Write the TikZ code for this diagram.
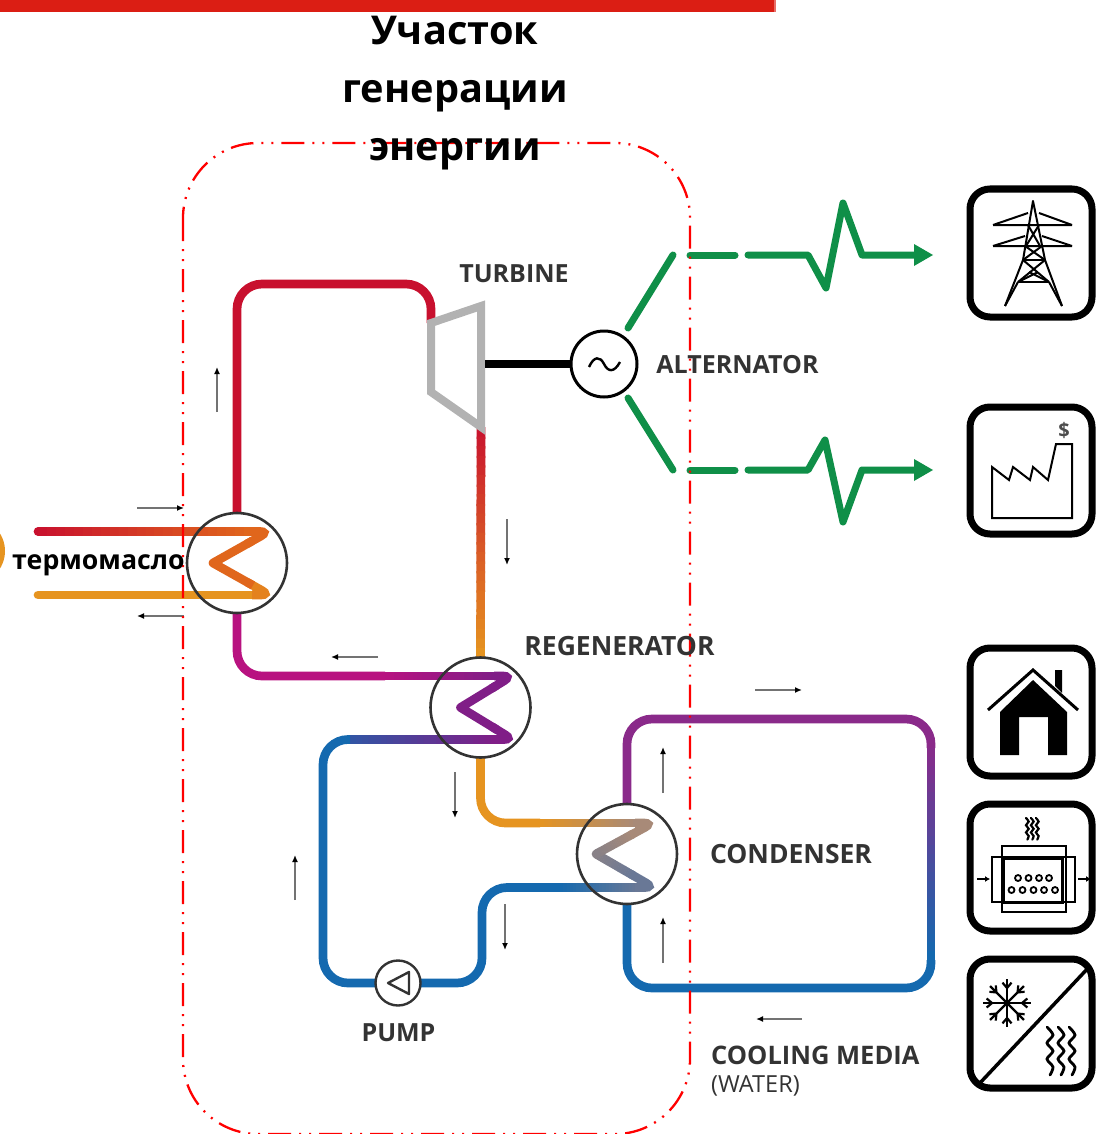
\documentclass[tikz,border=0pt]{standalone}
\usepackage{fontspec}
\setmainfont{Open Sans}
\usetikzlibrary{
  arrows.meta,
  backgrounds,
  calc,
}
\definecolor{barred}{RGB}{219, 30, 20}
\definecolor{pipered}{RGB}{200, 16, 46}
\definecolor{pipemag}{RGB}{184, 18, 128}
\definecolor{pipepurple}{RGB}{128, 30, 135}
\definecolor{pipeamber}{RGB}{230, 148, 32}
\definecolor{pipeblue}{RGB}{20, 105, 175}
\definecolor{coilorange}{RGB}{224, 102, 28}
\definecolor{coiltan}{RGB}{168, 138, 120}
\definecolor{coilgrey}{RGB}{105, 120, 150}
\definecolor{ringpurple}{RGB}{138, 42, 138}
\definecolor{feedgreen}{RGB}{15, 143, 72}
\tikzstyle{pipe} = [line width=8.7pt]
\tikzstyle{pipebend} = [pipe, rounded corners=25pt]
\tikzstyle{hx} = [
  circle,
  draw=black!80,
  line width=2.6pt,
  minimum size=100pt,
  inner sep=0,
  outer sep=0,
]
\tikzstyle{feed} = [line width=7pt, feedgreen, line cap=round, line join=round]
\tikzstyle{flowmark} = [
  -{Latex[length=7pt,width=6pt,black]},
  line width=1.5pt,
  black!55,
]
\tikzstyle{partname} = [font=\fontsize{25}{25}\selectfont\bfseries, text=black!80, inner sep=0]
\tikzstyle{iconbox} = [
  draw=black,
  line width=7pt,
  rounded corners=20pt,
  minimum width=122pt,
  inner sep=0,
  outer sep=0,
]
\tikzstyle{icon} = [line width=2pt, black]
\newcommand{\gradpipe}[4]{
  \foreach \i in {1,...,24} {
    \pgfmathsetmacro{\p}{(\i-1)/24}
    \pgfmathsetmacro{\q}{min(1,\i/24+0.01)}
    \pgfmathtruncatemacro{\m}{100*\i/24}
    \draw [pipe, #4!\m!#3] ($(#1)!\p!(#2)$) -- ($(#1)!\q!(#2)$);
  }
}
\newcommand{\coilturn}[3]{
  \draw [pipe, #3, rounded corners=9pt] ($(#1)+(-18,0)$) -- (#1) -- ($(#1)!0.4!(#2)$);
}
\newcommand{\heatwaves}[3]{
  \begin{scope}[shift={(#1,#2)}, scale=#3]
    \foreach \s in {0,11,22} {
      \draw [xshift=\s pt, line cap=round] plot [smooth] coordinates
        {(0,0) (6,8) (0,16) (6,24) (0,32) (6,40) (3,48)};
    }
  \end{scope}
}
\begin{document}
\begin{tikzpicture}[x=1pt, y=-1pt]
  \useasboundingbox (0,0) rectangle (1096,1134);

  \fill [barred] (0,0) rectangle (774,12);
  \fill [barred!65] (774,0) rectangle (776,12);

  \node [hx] (oilhx) at (237,563) {};
  \node [hx] (regen) at (480.5,707.5) {};
  \node [hx] (cond) at (627,854) {};
  \node [circle, draw=black!80, line width=2.4pt, minimum size=45pt, inner sep=0, outer sep=0] (pump) at (398,983) {};
  \node [circle, draw=black, line width=3pt, minimum size=66pt, inner sep=0, outer sep=0] (alt) at (604,364) {};

  \coordinate (oil in) at (38,531.5);
  \coordinate (oil out) at (38,595);
  \coordinate (oil top) at (269,531.5);
  \coordinate (oil end) at (253,531.5);
  \coordinate (oil tip) at (213,563);
  \coordinate (oil bot) at (270,595);
  \coordinate (regen in) at (385,676);
  \coordinate (regen top) at (512,676);
  \coordinate (regen end) at (496,676);
  \coordinate (regen tip) at (460.5,707.5);
  \coordinate (regen bot) at (513,739.5);
  \coordinate (regen back) at (497,739.5);
  \coordinate (regen out) at (350,739.5);
  \coordinate (pump left) at (323,983);
  \coordinate (pump right) at (482,887.5);
  \coordinate (cond in) at (540,823);
  \coordinate (cond top) at (653,823);
  \coordinate (cond end) at (637,823);
  \coordinate (cond tip) at (596,854);
  \coordinate (cond bot) at (654,887.5);
  \coordinate (cond back) at (638,887.5);
  \coordinate (cond up) at ($(cond top)!0.35!(cond tip)$);
  \coordinate (cond low) at ($(cond bot)!0.35!(cond tip)$);
  \coordinate (cond out) at (560,887.5);
  \coordinate (turbine in) at (431,323);
  \coordinate (turbine top) at (431,284);
  \coordinate (turbine out) at (481,427);
  \coordinate (ring a) at (931,748);
  \coordinate (ring b) at (931,960);
  \coordinate (ring top) at (931,719);
  \coordinate (ring bot) at (931,988);

  \begin{scope}[on background layer]
    \draw [pipebend, pipered] (oilhx.north) |- (turbine top) -- (turbine in);
    \gradpipe{turbine out}{regen.north}{pipered}{pipeamber}

    \draw [pipe, pipered, line cap=round] (oil in) -- ++(2,0);
    \gradpipe{oil in}{oil end}{pipered}{coilorange}
    \draw [pipe, pipeamber, line cap=round] (oil out) -- ++(220,0);
    \coilturn{oil top}{oil tip}{coilorange}
    \coilturn{oil bot}{oil tip}{pipeamber!60!coilorange}
    \draw [pipe, coilorange, line join=round] ($(oil top)!0.3!(oil tip)$) -- (oil tip) -- ($(oil bot)!0.3!(oil tip)$);

    \draw [pipebend, pipemag] (oilhx.south) |- (regen in);
    \gradpipe{regen in}{regen end}{pipemag}{pipepurple}
    \coilturn{regen top}{regen tip}{pipepurple}
    \gradpipe{regen out}{regen back}{pipeblue!75!pipepurple}{pipepurple}
    \coilturn{regen bot}{regen tip}{pipepurple}
    \draw [pipe, pipepurple, line join=round] ($(regen top)!0.3!(regen tip)$) -- (regen tip) -- ($(regen bot)!0.3!(regen tip)$);
    \draw [pipebend, pipeblue] (regen out) -| (pump left) -- (pump.west);
    \draw [pipebend, pipeblue] (pump.east) -| (pump right) -- (cond out);
    \gradpipe{cond out}{cond back}{pipeblue}{coilgrey}

    \draw [pipebend, pipeamber] (regen.south) |- (cond in);
    \gradpipe{cond in}{cond end}{pipeamber}{coiltan}
    \gradpipe{cond tip}{cond low}{coiltan!50!coilgrey}{coilgrey}
    \gradpipe{cond up}{cond tip}{coiltan}{coiltan!50!coilgrey}
    \coilturn{cond top}{cond tip}{coiltan}
    \coilturn{cond bot}{cond tip}{coilgrey}
    \fill [coiltan!50!coilgrey] (cond tip) circle (4.35pt);

    \draw [pipebend, ringpurple] (cond.north) |- (ring top) -- (ring a);
    \gradpipe{ring a}{ring b}{ringpurple}{pipeblue}
    \draw [pipebend, pipeblue] (ring b) -- (ring bot) -| (cond.south);
  \end{scope}

  % turbine and alternator
  \draw [line width=8pt, black!30, line join=miter] (turbine in) -- (481,306) -- (turbine out) -- (431,392) -- cycle;
  \draw [line width=8pt, black] (485,364) -- (alt.west);
  \draw [line width=2.4pt] (589,367) .. controls (594,356) and (600,356) .. (604,364) .. controls (608,372) and (614,373) .. (620,362);

  % pump mark
  \draw [line width=2.4pt, black!80, line join=round] ([shift={(-10,0)}]pump.center) -- ([shift={(11,-11)}]pump.center) -- ([shift={(11,11)}]pump.center) -- cycle;

  % power lines out of the alternator
  \draw [feed] (628,328) -- (673,255);
  \draw [feed] (690,255) -- (735,255);
  \draw [feed] (748,255) -- (808,255) -- (826,288) -- (843,203) -- (862,255) -- (915,255);
  \fill [feedgreen] (933,255) -- (914,244) -- (914,266) -- cycle;
  \draw [feed] (628,398) -- (673,470);
  \draw [feed] (690,470) -- (735,470);
  \draw [feed] (748,470) -- (808,470) -- (825,440) -- (843,522) -- (862,470) -- (915,470);
  \fill [feedgreen] (933,470) -- (914,459) -- (914,481) -- cycle;

  \foreach \x/\y/\dx/\dy in {
    217/412/0/-45, 137/508/47/0, 184/616/-47/0, 378/657/-47/0,
    507/519/0/46, 455/772/0/46, 505/904/0/46, 295/900/0/-45,
    663/793/0/-46, 663/963/0/-46, 755/690/47/0, 802/1019/-46/0} {
    \draw [flowmark] (\x,\y) -- ++(\dx,\dy);
  }

  % icons
  \node [iconbox, minimum height=128pt] (grid) at (1031,253) {};
  \node [iconbox, minimum height=127pt] (plant) at (1031,470.5) {};
  \node [iconbox, minimum height=128pt] (house) at (1031,712) {};
  \node [iconbox, minimum height=127pt] (heater) at (1031,867.5) {};
  \node [iconbox, minimum height=129pt] (cooler) at (1031,1023.5) {};

  % tower
  \draw [icon, line join=round] (1005,306) -- (1023,260) -- (1033,201) -- (1045,260) -- (1062,306);
  \draw [icon] (993,225) -- (1072,225) (993,225) -- (1028,213) (1072,225) -- (1039,213);
  \draw [icon] (993,246) -- (1072,246) (993,246) -- (1025,236) (1072,246) -- (1042,236);
  \draw [icon] (1028,225) -- (1040,246) (1039,225) -- (1026,246);
  \draw [icon] (1023,260) -- (1045,260) (1018,282) -- (1049,282);
  \draw [icon] (1025,246) -- (1045,260) (1042,246) -- (1023,260);
  \draw [icon] (1023,260) -- (1049,282) (1045,260) -- (1018,282);
  \draw [icon] (1018,282) -- (1005,306) (1049,282) -- (1062,306);
  \draw [icon] (1018,282) -- (1038,272) (1049,282) -- (1029,272);

  % factory
  \draw [icon] (992,467) -- (1009,480) -- (1013,467) -- (1030,480) -- (1033,467) -- (1048,480)
    -- (1056,444) -- (1072,444) -- (1072,518) -- (992,518) -- cycle;
  \node [font=\fontsize{20}{20}\selectfont\bfseries, text=black!70, inner sep=0] (dollar) at (1064,430) {\$};

  % house
  \draw [line width=3pt, black] (988,710) -- (1033,670) -- (1078,710);
  \fill (1000,712) -- (1033,680) -- (1067,712) -- (1067,755) -- (1048,755) -- (1048,717) -- (1019,717) -- (1019,755) -- (1000,755) -- cycle;
  \fill (1055,670) -- (1062,670) -- (1062,693) -- (1055,686) -- cycle;

  % heater
  \draw [icon] (1002,846) rectangle (1066,912);
  \draw [icon] (992,857) rectangle (1075,902);
  \draw [line width=3pt] (1003,858) rectangle (1062,902);
  \foreach \x in {1018,1028.5,1039,1049} {
    \draw [line width=1.8pt] (\x,878) circle (3pt);
  }
  \foreach \x in {1011.5,1022.5,1033.5,1044,1055} {
    \draw [line width=1.8pt] (\x,890) circle (3pt);
  }
  \draw [line width=1.8pt, -{Latex[length=5pt,width=6pt]}] (977,879) -- (990,879);
  \draw [line width=1.8pt, -{Latex[length=5pt,width=6pt]}] (1078,879) -- (1091,879);
  \begin{scope}[line width=2.2pt]
    \heatwaves{1026}{818}{0.45}
  \end{scope}

  % cooling and heating
  \draw [line width=3.5pt] (1090,966) -- (979,1084);
  \foreach \a in {0,45,...,315} {
    \draw [line width=2.2pt] (1007,1003) -- ++(\a:24);
    \draw [line width=2.2pt] ($(1007,1003)+(\a:15)$) -- ++(\a+40:7);
    \draw [line width=2.2pt] ($(1007,1003)+(\a:15)$) -- ++(\a-40:7);
  }
  \begin{scope}[line width=2.8pt]
    \heatwaves{1047}{1027}{1}
  \end{scope}

  % red zone
  \draw [red, line width=2.3pt, rounded corners=75pt,
         dash pattern=on 23pt off 8pt on 2pt off 8pt on 2pt off 8pt]
    (183,143) rectangle (690,1134);

  % texts
  \node [partname] (turbinename) at (514,274) {TURBINE};
  \node [partname] (altname) at (737.5,365) {ALTERNATOR};
  \node [partname, font=\fontsize{26.5}{26}\selectfont\bfseries] (regenname) at (619.5,646) {REGENERATOR};
  \node [partname, font=\fontsize{26.5}{26}\selectfont\bfseries] (condname) at (791,854) {CONDENSER};
  \node [partname] (pumpname) at (398.5,1033) {PUMP};
  \node [partname, anchor=west, font=\fontsize{25.5}{26}\selectfont\bfseries] (coolname) at (711,1055) {COOLING MEDIA};
  \node [partname, anchor=west, font=\fontsize{23.5}{23}\selectfont] (watername) at (711,1086) {(WATER)};
  \node [font=\fontsize{26.7}{26}\selectfont\bfseries, inner sep=0, anchor=west] (oilname) at (12,565) {термомасло};
  \node [font=\fontsize{39.7}{58}\selectfont\bfseries, align=center, inner sep=0] (title) at (455,93) {Участок\\генерации\\энергии};

  \fill [pipeamber] (-28,551) circle (33pt);
\end{tikzpicture}
\end{document}
